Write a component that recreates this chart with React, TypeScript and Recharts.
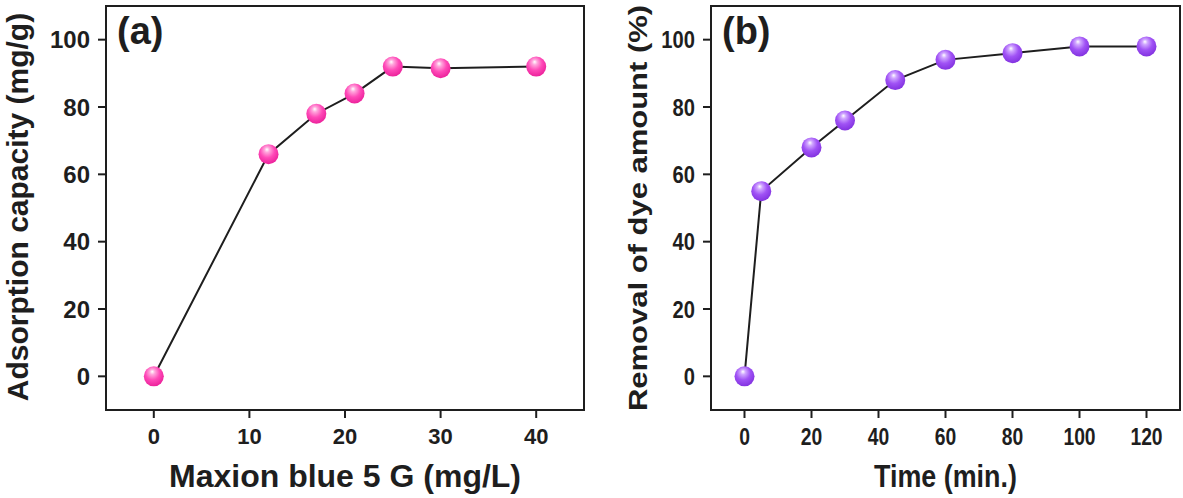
import { LineChart, Line, XAxis, YAxis, ReferenceArea, Label } from 'recharts';

// (a) adsorption capacity vs. initial dye concentration
const concentration = [0, 12, 17, 21, 25, 30, 40];
const capacity = [0, 66, 78, 84, 92, 91.5, 92];
const concTicks = [0, 10, 20, 30, 40];

// (b) dye removal vs. contact time
const time = [0, 5, 20, 30, 45, 60, 80, 100, 120];
const removal = [0, 55, 68, 76, 88, 94, 96, 98, 98];
const timeTicks = [0, 20, 40, 60, 80, 100, 120];

const yTicks = [0, 20, 40, 60, 80, 100];

const dataA = concentration.map((x, i) => ({ x, y: capacity[i] }));
const dataB = time.map((x, i) => ({ x, y: removal[i] }));

const INK = '#1e1e1e';
const FONT = "'Liberation Sans', Arial, sans-serif";

interface TickTextProps {
  x?: number;
  y?: number;
  payload?: { value: number };
  size: number;
  squeeze: number;
  anchor: 'middle' | 'end';
  shift: number;
}

// tick text with its own size and horizontal squeeze
const TickText = ({ x = 0, y = 0, payload, size, squeeze, anchor, shift }: TickTextProps) => (
  <text
    transform={`translate(${x} ${y + shift}) scale(${squeeze} 1)`}
    textAnchor={anchor}
    style={{ fontFamily: FONT, fontSize: size, fontWeight: 700, fill: INK }}
  >
    {payload?.value}
  </text>
);

interface BallProps {
  cx?: number;
  cy?: number;
  index?: number;
}

const makeBall = (gradient: string) => (props: BallProps) => {
  const { cx = 0, cy = 0, index = 0 } = props;
  return <circle key={`ball-${index}`} cx={cx} cy={cy} r={10} fill={`url(#${gradient})`} />;
};

interface PanelProps {
  data: { x: number; y: number }[];
  xDomain: [number, number];
  xTicks: number[];
  gradient: string;
  tag: string;
  xTitle: string;
  yTitle: string;
  width: number;
  squeeze: number;
  xTickSize: number;
  yTickSize: number;
  yTitleX: number;
  yTitleY: number;
  yTitleSize: number;
  yTitleSqueeze: number;
}

const Panel = ({
  data,
  xDomain,
  xTicks,
  gradient,
  tag,
  xTitle,
  yTitle,
  width,
  squeeze,
  xTickSize,
  yTickSize,
  yTitleX,
  yTitleY,
  yTitleSize,
  yTitleSqueeze,
}: PanelProps) => (
  <LineChart
    width={width}
    height={498}
    data={data}
    margin={{ top: 6, right: 3, bottom: 0, left: 0 }}
  >
    <XAxis
      dataKey="x"
      type="number"
      domain={xDomain}
      ticks={xTicks}
      allowDataOverflow
      height={88}
      tickSize={8}
      tickMargin={10}
      tick={<TickText size={xTickSize} squeeze={squeeze} anchor="middle" shift={xTickSize * 0.72} />}
      stroke={INK}
      strokeWidth={2}
    >
      <Label
        content={({ viewBox }) => {
          const vb = viewBox as { x: number; y: number; width: number };
          return (
            <text
              transform={`translate(${vb.x + vb.width / 2} 487) scale(${squeeze} 1)`}
              textAnchor="middle"
              style={{ fontFamily: FONT, fontSize: 32, fontWeight: 700, fill: INK }}
            >
              {xTitle}
            </text>
          );
        }}
      />
    </XAxis>
    <YAxis
      type="number"
      domain={[-10, 110]}
      ticks={yTicks}
      allowDataOverflow
      width={106}
      tickSize={8}
      tickMargin={8}
      tick={<TickText size={yTickSize} squeeze={squeeze} anchor="end" shift={yTickSize * 0.36} />}
      stroke={INK}
      strokeWidth={2}
    >
      <Label
        content={() => (
          <text
            transform={`translate(${yTitleX} ${yTitleY}) rotate(-90) scale(1 ${yTitleSqueeze})`}
            textAnchor="middle"
            style={{ fontFamily: FONT, fontSize: yTitleSize, fontWeight: 700, fill: INK }}
          >
            {yTitle}
          </text>
        )}
      />
    </YAxis>
    <ReferenceArea
      x1={xDomain[0]}
      x2={xDomain[1]}
      y1={-10}
      y2={110}
      fill="none"
      fillOpacity={0}
      stroke={INK}
      strokeWidth={2}
      ifOverflow="visible"
    >
      <Label
        content={({ viewBox }) => {
          const vb = viewBox as { x: number; y: number };
          return (
            <text
              x={vb.x + 11}
              y={vb.y + 38}
              style={{ fontFamily: FONT, fontSize: 38, fontWeight: 700, fill: INK }}
            >
              {tag}
            </text>
          );
        }}
      />
    </ReferenceArea>
    <Line
      type="linear"
      dataKey="y"
      stroke={INK}
      strokeWidth={2}
      dot={makeBall(gradient)}
      activeDot={false}
      isAnimationActive={false}
    />
  </LineChart>
);

export default function App() {
  return (
    <div style={{ position: 'absolute', left: 0, top: 0, width: 1183, height: 498, background: '#fff', overflow: 'hidden' }}>
      <svg width={0} height={0} style={{ position: 'absolute' }}>
        <defs>
          <radialGradient id="pinkBall" cx="45%" cy="38%" r="65%" fx="42%" fy="26%">
            <stop offset="0" stopColor="#ffffff" />
            <stop offset="0.2" stopColor="#ffa6dc" />
            <stop offset="0.55" stopColor="#ff4ab8" />
            <stop offset="1" stopColor="#ea1e98" />
          </radialGradient>
          <radialGradient id="violetBall" cx="45%" cy="38%" r="65%" fx="42%" fy="26%">
            <stop offset="0" stopColor="#ffffff" />
            <stop offset="0.2" stopColor="#d0a6ff" />
            <stop offset="0.55" stopColor="#a052f5" />
            <stop offset="1" stopColor="#8030de" />
          </radialGradient>
        </defs>
      </svg>
      <div style={{ position: 'absolute', left: 0, top: 0 }}>
        <Panel
          data={dataA}
          xDomain={[-5, 45]}
          xTicks={concTicks}
          gradient="pinkBall"
          tag="(a)"
          xTitle="Maxion blue 5 G (mg/L)"
          yTitle="Adsorption capacity (mg/g)"
          width={587}
          squeeze={1}
          xTickSize={22}
          yTickSize={24}
          yTitleX={28}
          yTitleY={207}
          yTitleSize={30}
          yTitleSqueeze={1}
        />
      </div>
      <div style={{ position: 'absolute', left: 605, top: 0 }}>
        <Panel
          data={dataB}
          xDomain={[-10, 130]}
          xTicks={timeTicks}
          gradient="violetBall"
          tag="(b)"
          xTitle="Time (min.)"
          yTitle="Removal of dye amount (%)"
          width={578}
          squeeze={0.84}
          xTickSize={23}
          yTickSize={24}
          yTitleX={42}
          yTitleY={208}
          yTitleSize={31}
          yTitleSqueeze={0.85}
        />
      </div>
    </div>
  );
}
